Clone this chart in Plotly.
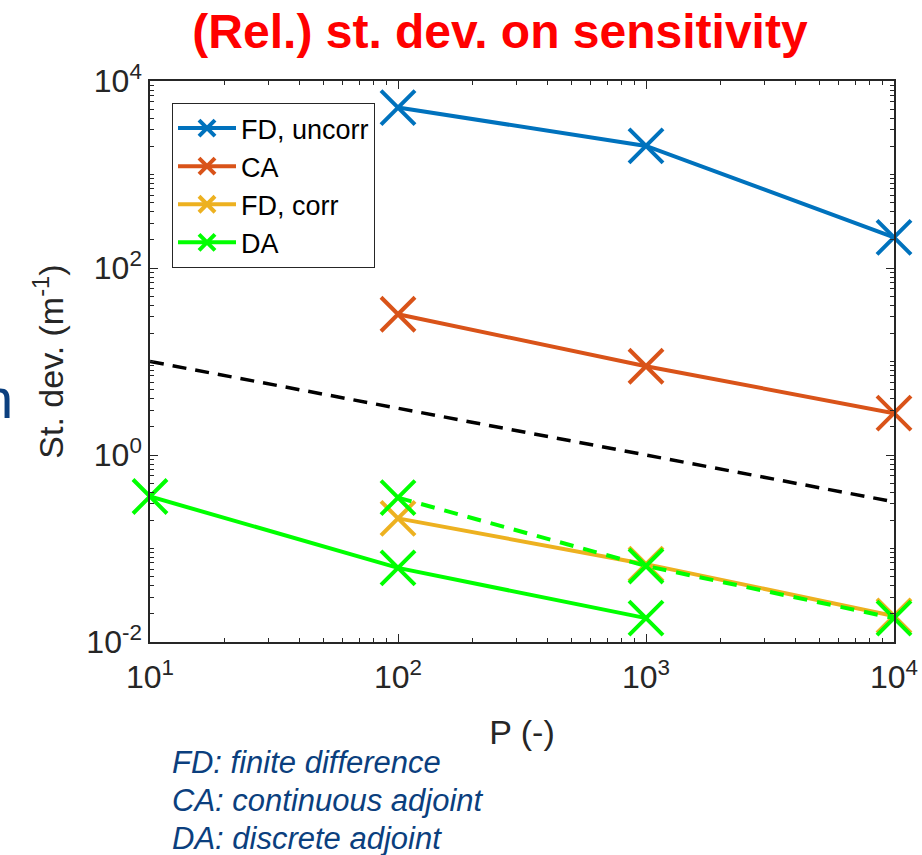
import plotly.graph_objects as go

# ---- data ----
P_fd_uncorr = [100, 1000, 10000]
sd_fd_uncorr = [5200, 2020, 213]

P_ca = [100, 1000, 10000]
sd_ca = [32, 8.9, 2.8]

P_fd_corr = [100, 1000, 10000]
sd_fd_corr = [0.21, 0.068, 0.019]

P_da = [10, 100, 1000]
sd_da = [0.36, 0.062, 0.018]

P_da_dash = [100, 1000, 10000]
sd_da_dash = [0.35, 0.065, 0.018]

P_ref = [10, 10000]
sd_ref = [10, 0.316]

x_tickvals = [10, 100, 1000, 10000]
x_ticktext = ["10<sup>1</sup>", "10<sup>2</sup>", "10<sup>3</sup>", "10<sup>4</sup>"]
y_tickvals = [0.01, 1, 100, 10000]
y_ticktext = ["10<sup>-2</sup>", "10<sup>0</sup>", "10<sup>2</sup>", "10<sup>4</sup>"]

x_decades = [10, 100, 1000]
y_decades = [0.01, 0.1, 1, 10, 100, 1000]
mults = [2, 3, 4, 5, 6, 7, 8, 9]

notes = ["FD: finite difference", "CA: continuous adjoint", "DA: discrete adjoint"]

BLUE = "#0072BD"
ORANGE = "#D95319"
YELLOW = "#EDB120"
GREEN = "#00FF00"
AXC = "#262626"
NAVY = "#0B3F7E"
FONT = "Liberation Sans, Arial, sans-serif"

MS = 34
LW = 4

def mk(color):
    return dict(symbol="x-thin", size=MS, line=dict(color=color, width=LW), color=color)

fig = go.Figure()
fig.add_trace(go.Scatter(x=P_ref, y=sd_ref, mode="lines", showlegend=False,
                         line=dict(color="black", width=3.5, dash="14px,9px"), cliponaxis=False))
fig.add_trace(go.Scatter(x=P_fd_uncorr, y=sd_fd_uncorr, mode="lines+markers", name="FD, uncorr",
                         line=dict(color=BLUE, width=LW), marker=mk(BLUE), cliponaxis=False))
fig.add_trace(go.Scatter(x=P_ca, y=sd_ca, mode="lines+markers", name="CA",
                         line=dict(color=ORANGE, width=LW), marker=mk(ORANGE), cliponaxis=False))
fig.add_trace(go.Scatter(x=P_fd_corr, y=sd_fd_corr, mode="lines+markers", name="FD, corr",
                         line=dict(color=YELLOW, width=LW), marker=mk(YELLOW), cliponaxis=False))
fig.add_trace(go.Scatter(x=P_da, y=sd_da, mode="lines+markers", name="DA",
                         line=dict(color=GREEN, width=LW), marker=mk(GREEN), cliponaxis=False))
fig.add_trace(go.Scatter(x=P_da_dash, y=sd_da_dash, mode="lines+markers", showlegend=False,
                         line=dict(color=GREEN, width=LW, dash="14px,10px"), marker=mk(GREEN),
                         cliponaxis=False))

axis_common = dict(
    type="log", showgrid=False, zeroline=False, automargin=False,
    showline=True, linecolor=AXC, linewidth=1.5, mirror="ticks",
    ticks="inside", ticklen=8, tickwidth=1.2, tickcolor=AXC,
    tickfont=dict(family=FONT, size=32, color=AXC),
)

fig.update_xaxes(**axis_common, range=[1, 4], tickvals=x_tickvals, ticktext=x_ticktext,
                 ticklabelstandoff=6,
                 minor=dict(ticks="inside", ticklen=4, tickcolor=AXC, tickwidth=1, showgrid=False,
                            tickvals=[d * m for d in x_decades for m in mults]),
                 title=dict(text="P (-)", font=dict(family=FONT, size=34, color=AXC), standoff=26))
fig.update_yaxes(**axis_common, range=[-2, 4], tickvals=y_tickvals, ticktext=y_ticktext,
                 minor=dict(ticks="inside", ticklen=4, tickcolor=AXC, tickwidth=1, showgrid=False,
                            tickvals=[d * m for d in y_decades for m in mults] + [0.1, 10, 1000]),
                 title=dict(text="St. dev. (m<sup>-1</sup>)", font=dict(family=FONT, size=34, color=AXC),
                            standoff=12))

annotations = []
for i, t in enumerate(notes):
    annotations.append(dict(text="<i>" + t + "</i>", xref="paper", yref="paper",
                            x=(170 - 150) / 744, y=1 - (762 + i * 38 - 81) / 561,
                            xanchor="left", yanchor="middle", showarrow=False,
                            font=dict(family=FONT, size=31, color=NAVY)))
annotations.append(dict(text="n", xref="paper", yref="paper",
                        x=(15 - 150) / 744, y=1 - (398 - 81) / 561,
                        xanchor="right", yanchor="middle", showarrow=False,
                        font=dict(family=FONT, size=56, color=NAVY)))

fig.update_layout(
    width=922, height=855,
    margin=dict(l=150, r=28, t=81, b=213),
    paper_bgcolor="white", plot_bgcolor="white",
    font=dict(family=FONT, color=AXC),
    title=dict(text="<b>(Rel.) st. dev. on sensitivity</b>", x=500 / 922, xanchor="center",
               y=1 - 31 / 855, yanchor="middle", yref="container",
               font=dict(family=FONT, size=48, color="#FF0000")),
    legend=dict(x=(172 - 150) / 744, y=1 - (103 - 81) / 561, xanchor="left", yanchor="top",
                bgcolor="white", bordercolor=AXC, borderwidth=1,
                font=dict(family=FONT, size=27, color="black"), tracegroupgap=0,
                itemwidth=58, itemsizing="trace"),
    annotations=annotations,
    showlegend=True,
)

fig.write_html("out.html")
